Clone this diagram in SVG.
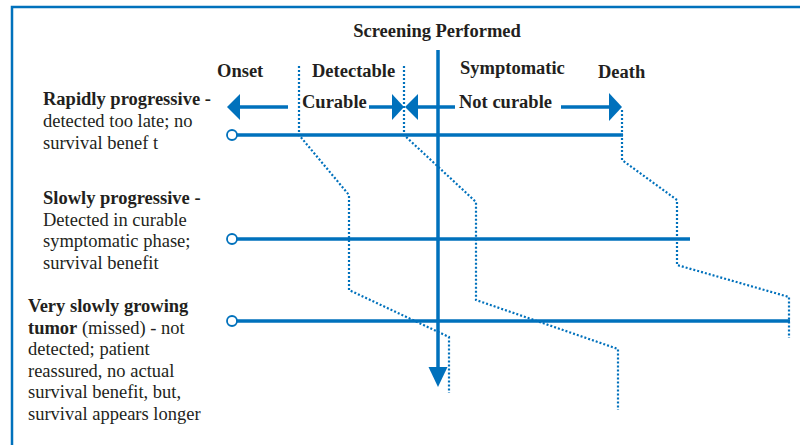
<svg xmlns="http://www.w3.org/2000/svg" width="800" height="445" viewBox="0 0 800 445">
<style>
.t{font-family:"Liberation Serif","Times New Roman",serif;font-size:18.5px;fill:#231f20}
.b{font-weight:bold}
.solid{stroke:#0071bc;stroke-width:3.5;fill:none}
.dot{stroke:#0071bc;stroke-width:2.2;stroke-dasharray:2 2;fill:none}
.head{fill:#0071bc}
.circ{fill:#fff;stroke:#0071bc;stroke-width:1.8}
</style>
<rect width="800" height="445" fill="#fff"/>
<g id="frame"><path d="M12,445 V7 H800" fill="none" stroke="#0071bc" stroke-width="2.5"/></g>
<g id="labels">
<text class="t b" x="437" y="37" text-anchor="middle">Screening Performed</text>
<text class="t b" x="217" y="77">Onset</text>
<text class="t b" x="312" y="77">Detectable</text>
<text class="t b" x="460" y="74">Symptomatic</text>
<text class="t b" x="598" y="78">Death</text>
<text class="t b" x="302" y="108">Curable</text>
<text class="t b" x="459" y="108">Not curable</text>
</g>
<g id="row1">
<text class="t"><tspan class="b" x="43" y="105">Rapidly progressive -</tspan><tspan x="43" y="127">detected too late; no</tspan><tspan x="43" y="149">survival benef t</tspan></text>
</g>
<g id="row2">
<text class="t"><tspan class="b" x="43" y="204">Slowly progressive -</tspan><tspan x="43" y="226">Detected in curable</tspan><tspan x="43" y="247">symptomatic phase;</tspan><tspan x="43" y="269">survival benefit</tspan></text>
</g>
<g id="row3">
<text class="t"><tspan class="b" x="28" y="312">Very slowly growing</tspan><tspan x="28" y="334"><tspan class="b">tumor</tspan> (missed) - not</tspan><tspan x="28" y="355">detected; patient</tspan><tspan x="28" y="377">reassured, no actual</tspan><tspan x="28" y="398">survival benefit, but,</tspan><tspan x="28" y="420">survival appears longer</tspan></text>
</g>
<g id="connectors">
<path class="dot" d="M299,66 V135 L349,195 V290 L449,337 V393"/>
<path class="dot" d="M404,66 V135 L476,202 V300 L618,349 V410"/>
<path class="dot" d="M622,110 V160 L677,200 V265 L789,297 V338"/>
<path class="solid" d="M237,135 H623"/>
<path class="solid" d="M237,239 H690"/>
<path class="solid" d="M237,321 H790"/>
<circle class="circ" cx="232" cy="135" r="5"/>
<circle class="circ" cx="232" cy="239" r="5"/>
<circle class="circ" cx="232" cy="321" r="5"/>
<path class="solid" d="M438,50 V370"/>
<path class="head" d="M428.5,367 H447.5 L438,387 Z"/>
<path class="solid" d="M238,107 H288"/>
<path class="head" d="M227,107 L240,94 V120 Z"/>
<path class="solid" d="M369,107 H395"/>
<path class="head" d="M404,107 L392,94 V120 Z"/>
<path class="head" d="M405,107 L418,94 V120 Z"/>
<path class="solid" d="M416,107 H455"/>
<path class="solid" d="M561,107 H612"/>
<path class="head" d="M622,107 L609,93 V121 Z"/>
</g>
</svg>
